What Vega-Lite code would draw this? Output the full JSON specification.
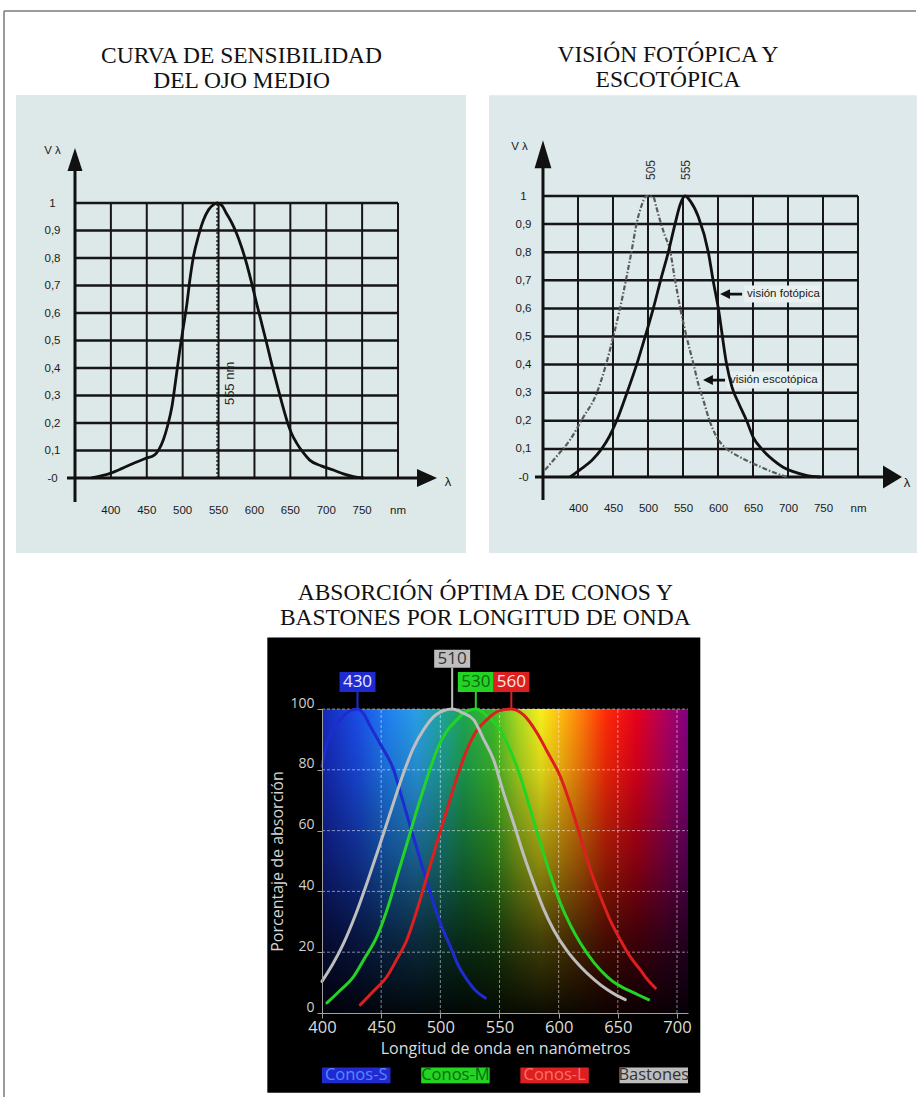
{
"$schema": "https://vega.github.io/schema/vega-lite/v6.json",
"background": "white",
"padding": {"left": 3, "top": 10, "right": 0, "bottom": 0},
"config": {"view": {"stroke": null}},
"datasets": {
"one": [{}],
"vg": [{"nm":400},{"nm":450},{"nm":500},{"nm":550},{"nm":600},{"nm":650},{"nm":700},{"nm":750},{"nm":800}],
"xl": [{"nm":400,"label":"400"},{"nm":450,"label":"450"},{"nm":500,"label":"500"},{"nm":550,"label":"550"},{"nm":600,"label":"600"},{"nm":650,"label":"650"},{"nm":700,"label":"700"},{"nm":750,"label":"750"},{"nm":800,"label":"nm"}],
"hg": [{"v":0.1},{"v":0.2},{"v":0.3},{"v":0.4},{"v":0.5},{"v":0.6},{"v":0.7},{"v":0.8},{"v":0.9},{"v":1}],
"c1": [{"nm":373,"v":0},{"nm":385,"v":0.007},{"nm":399,"v":0.017},{"nm":415,"v":0.034},{"nm":431,"v":0.053},{"nm":447,"v":0.07},{"nm":461,"v":0.084},{"nm":467,"v":0.104},{"nm":473,"v":0.138},{"nm":479,"v":0.19},{"nm":485,"v":0.259},{"nm":490,"v":0.35},{"nm":496,"v":0.465},{"nm":501,"v":0.55},{"nm":506,"v":0.635},{"nm":510,"v":0.72},{"nm":515,"v":0.805},{"nm":522,"v":0.88},{"nm":529,"v":0.938},{"nm":536,"v":0.975},{"nm":543,"v":0.994},{"nm":548,"v":1.0},{"nm":555,"v":0.99},{"nm":561,"v":0.962},{"nm":568,"v":0.93},{"nm":575,"v":0.89},{"nm":582,"v":0.84},{"nm":589,"v":0.78},{"nm":596,"v":0.71},{"nm":603,"v":0.635},{"nm":610,"v":0.563},{"nm":617,"v":0.49},{"nm":624,"v":0.415},{"nm":631,"v":0.344},{"nm":638,"v":0.275},{"nm":645,"v":0.211},{"nm":652,"v":0.16},{"nm":659,"v":0.126},{"nm":668,"v":0.092},{"nm":677,"v":0.065},{"nm":693,"v":0.044},{"nm":710,"v":0.029},{"nm":724,"v":0.015},{"nm":738,"v":0.005},{"nm":752,"v":0}],
"phot": [{"nm":388.6,"v":0},{"nm":405,"v":0.03},{"nm":420,"v":0.06},{"nm":433.8,"v":0.1},{"nm":445,"v":0.145},{"nm":455.2,"v":0.2},{"nm":470,"v":0.3},{"nm":483.8,"v":0.4},{"nm":496,"v":0.5},{"nm":507.6,"v":0.6},{"nm":518,"v":0.7},{"nm":529,"v":0.8},{"nm":538.6,"v":0.9},{"nm":546,"v":0.97},{"nm":553,"v":1.0},{"nm":561,"v":0.98},{"nm":571.9,"v":0.926},{"nm":586.2,"v":0.8},{"nm":593,"v":0.7},{"nm":600.5,"v":0.6},{"nm":612.4,"v":0.4},{"nm":620,"v":0.32},{"nm":630,"v":0.26},{"nm":641,"v":0.2},{"nm":650,"v":0.143},{"nm":662.4,"v":0.1},{"nm":679,"v":0.06},{"nm":693,"v":0.035},{"nm":707.6,"v":0.019},{"nm":726,"v":0.006},{"nm":746,"v":0}],
"scot": [{"nm":352.9,"v":0.025},{"nm":370,"v":0.075},{"nm":388.6,"v":0.132},{"nm":407,"v":0.21},{"nm":426.7,"v":0.298},{"nm":440,"v":0.4},{"nm":450.5,"v":0.5},{"nm":460,"v":0.6},{"nm":469.5,"v":0.713},{"nm":477,"v":0.81},{"nm":483.8,"v":0.903},{"nm":490,"v":0.96},{"nm":498,"v":1.0},{"nm":507.6,"v":0.997},{"nm":512,"v":0.96},{"nm":517,"v":0.915},{"nm":524,"v":0.86},{"nm":531.4,"v":0.808},{"nm":538,"v":0.71},{"nm":545.7,"v":0.606},{"nm":555,"v":0.5},{"nm":564.7,"v":0.405},{"nm":572,"v":0.33},{"nm":579,"v":0.274},{"nm":588,"v":0.2},{"nm":598,"v":0.143},{"nm":610,"v":0.105},{"nm":622,"v":0.084},{"nm":640,"v":0.06},{"nm":660,"v":0.037},{"nm":680,"v":0.016},{"nm":698,"v":0}],
"ann": [{"label":"visión fotópica","nm":603,"v":0.651},{"label":"visión escotópica","nm":578.6,"v":0.345}],
"pk2": [{"peak":505,"label":"505"},{"peak":555,"label":"555"}],
"cones": [
{"series":"Conos-S","nm":400,"v":81.1},{"series":"Conos-S","nm":404.2,"v":88.8},{"series":"Conos-S","nm":409,"v":93.5},{"series":"Conos-S","nm":415.5,"v":96.5},{"series":"Conos-S","nm":422,"v":99},{"series":"Conos-S","nm":430,"v":100},{"series":"Conos-S","nm":435,"v":98.5},{"series":"Conos-S","nm":440.8,"v":94.3},{"series":"Conos-S","nm":450,"v":88},{"series":"Conos-S","nm":460.5,"v":80},{"series":"Conos-S","nm":467,"v":71.5},{"series":"Conos-S","nm":474.6,"v":61.4},{"series":"Conos-S","nm":483,"v":50.5},{"series":"Conos-S","nm":491.5,"v":39.5},{"series":"Conos-S","nm":500,"v":29.5},{"series":"Conos-S","nm":508.4,"v":21.9},{"series":"Conos-S","nm":515,"v":15.8},{"series":"Conos-S","nm":522.5,"v":11},{"series":"Conos-S","nm":530,"v":7.3},{"series":"Conos-S","nm":538,"v":4.9},
{"series":"Conos-M","nm":404.2,"v":3.3},{"series":"Conos-M","nm":415,"v":7.3},{"series":"Conos-M","nm":426.7,"v":12},{"series":"Conos-M","nm":436,"v":18},{"series":"Conos-M","nm":446.5,"v":25.2},{"series":"Conos-M","nm":455,"v":34},{"series":"Conos-M","nm":463.4,"v":44.9},{"series":"Conos-M","nm":472,"v":56},{"series":"Conos-M","nm":480.3,"v":66.9},{"series":"Conos-M","nm":489,"v":77.5},{"series":"Conos-M","nm":497.2,"v":86.6},{"series":"Conos-M","nm":505,"v":92.5},{"series":"Conos-M","nm":514.1,"v":96.5},{"series":"Conos-M","nm":522,"v":99.2},{"series":"Conos-M","nm":530,"v":100},{"series":"Conos-M","nm":540,"v":97.5},{"series":"Conos-M","nm":550.7,"v":93.2},{"series":"Conos-M","nm":559,"v":86.5},{"series":"Conos-M","nm":567.6,"v":77.8},{"series":"Conos-M","nm":576,"v":67},{"series":"Conos-M","nm":584.5,"v":55.9},{"series":"Conos-M","nm":593,"v":45.5},{"series":"Conos-M","nm":601.4,"v":36.2},{"series":"Conos-M","nm":610,"v":28.8},{"series":"Conos-M","nm":618.3,"v":23},{"series":"Conos-M","nm":630,"v":16.5},{"series":"Conos-M","nm":640.9,"v":12},{"series":"Conos-M","nm":649,"v":9.5},{"series":"Conos-M","nm":657.8,"v":7.7},{"series":"Conos-M","nm":667,"v":6},{"series":"Conos-M","nm":676,"v":4.4},
{"series":"Conos-L","nm":432.4,"v":2.7},{"series":"Conos-L","nm":443,"v":7},{"series":"Conos-L","nm":454.9,"v":12},{"series":"Conos-L","nm":463,"v":17.5},{"series":"Conos-L","nm":471.8,"v":24.1},{"series":"Conos-L","nm":480,"v":33.5},{"series":"Conos-L","nm":488.7,"v":44.9},{"series":"Conos-L","nm":497,"v":56},{"series":"Conos-L","nm":505.6,"v":66.9},{"series":"Conos-L","nm":514,"v":77.5},{"series":"Conos-L","nm":522.5,"v":86.6},{"series":"Conos-L","nm":530,"v":92.5},{"series":"Conos-L","nm":539.4,"v":96.5},{"series":"Conos-L","nm":549,"v":99.3},{"series":"Conos-L","nm":560,"v":100},{"series":"Conos-L","nm":571,"v":97.8},{"series":"Conos-L","nm":581.7,"v":92.1},{"series":"Conos-L","nm":591,"v":85.5},{"series":"Conos-L","nm":601.4,"v":77.8},{"series":"Conos-L","nm":610,"v":68.5},{"series":"Conos-L","nm":618.3,"v":58.1},{"series":"Conos-L","nm":626,"v":48},{"series":"Conos-L","nm":635.2,"v":38.4},{"series":"Conos-L","nm":643,"v":31},{"series":"Conos-L","nm":652.1,"v":24.1},{"series":"Conos-L","nm":660,"v":18.8},{"series":"Conos-L","nm":669,"v":14.2},{"series":"Conos-L","nm":675,"v":11},{"series":"Conos-L","nm":681.7,"v":8.2},
{"series":"Bastones","nm":400,"v":10.4},{"series":"Bastones","nm":409,"v":16},{"series":"Bastones","nm":418.3,"v":23},{"series":"Bastones","nm":428,"v":32},{"series":"Bastones","nm":438,"v":42.8},{"series":"Bastones","nm":446,"v":52},{"series":"Bastones","nm":454.9,"v":62.5},{"series":"Bastones","nm":462,"v":71},{"series":"Bastones","nm":469,"v":79},{"series":"Bastones","nm":477,"v":87},{"series":"Bastones","nm":485.9,"v":93.2},{"series":"Bastones","nm":496,"v":98},{"series":"Bastones","nm":510,"v":100},{"series":"Bastones","nm":519,"v":98.7},{"series":"Bastones","nm":528.1,"v":96.5},{"series":"Bastones","nm":536,"v":90.5},{"series":"Bastones","nm":545,"v":83.3},{"series":"Bastones","nm":553,"v":73},{"series":"Bastones","nm":561.9,"v":62.5},{"series":"Bastones","nm":570,"v":52.5},{"series":"Bastones","nm":578.8,"v":42.8},{"series":"Bastones","nm":587,"v":34.5},{"series":"Bastones","nm":595.7,"v":27.4},{"series":"Bastones","nm":607,"v":20.5},{"series":"Bastones","nm":618.3,"v":15.3},{"series":"Bastones","nm":630,"v":11},{"series":"Bastones","nm":640.9,"v":7.7},{"series":"Bastones","nm":649,"v":5.8},{"series":"Bastones","nm":656.3,"v":4.4}
],
"peaks": [{"series":"Conos-S","peak":430},{"series":"Bastones","peak":510},{"series":"Conos-M","peak":530},{"series":"Conos-L","peak":560}],
"vg3": [{"nm":450},{"nm":500},{"nm":550},{"nm":600},{"nm":650},{"nm":700}],
"hg3": [{"v":20},{"v":40},{"v":60},{"v":80},{"v":100}],
"leg": [{"series":"Conos-S"},{"series":"Conos-M"},{"series":"Conos-L"},{"series":"Bastones"}]
},
"columns": 2,
"bounds": "flush",
"spacing": 0,
"concat": [
{"width": 318, "height": 698, "layer": [
 {"data":{"name":"one"},"mark":{"type":"rect","color":"#dde9e9"},"encoding":{
   "x":{"datum":267.8,"type":"quantitative","scale":{"domain":[251.1,694.1],"nice":false,"zero":false},"axis":null},
   "x2":{"datum":894.7},
   "y":{"datum":-0.273,"type":"quantitative","scale":{"domain":[-0.84,1.6982],"nice":false,"zero":false},"axis":{"orient":"left","offset":-71,"values":[0,0.1,0.2,0.3,0.4,0.5,0.6,0.7,0.8,0.9,1],"labelExpr":"datum.value == 0 ? '-0' : (datum.value == 1 ? '1' : replace(format(datum.value, '.1f'), '.', ','))","domain":false,"ticks":false,"tickSize":0,"grid":false,"labelPadding":23,"labelAlign":"center","labelBaseline":"middle","labelFont":"Liberation Sans","labelFontSize":11.5,"labelColor":"#1a1a1a","labelFlush":false,"labelOverlap":false,"labelBound":false,"title":"V λ","titleX":-23,"titleY":139,"titleAlign":"center","titleBaseline":"middle","titleAngle":0,"titleFont":"Liberation Sans","titleFontSize":11.5,"titleFontWeight":"normal","titleColor":"#1a1a1a","zindex":1}},
   "y2":{"datum":1.393}}},
 {"data":{"name":"one"},"mark":{"type":"rule","color":"#7a7a7a","strokeWidth":1.5},"encoding":{"x":{"datum":251.1,"type":"quantitative","scale":{"domain":[251.1,694.1],"nice":false,"zero":false}},"y":{"datum":-0.84,"type":"quantitative","scale":{"domain":[-0.84,1.6982],"nice":false,"zero":false}},"y2":{"datum":1.6982}}},
 {"data":{"name":"one"},"mark":{"type":"rule","color":"#7a7a7a","strokeWidth":1.5},"encoding":{"x":{"datum":251.1,"type":"quantitative","scale":{"domain":[251.1,694.1],"nice":false,"zero":false}},"x2":{"datum":694.1},"y":{"datum":1.6982,"type":"quantitative","scale":{"domain":[-0.84,1.6982],"nice":false,"zero":false}}}},
 {"data":{"name":"one"},"mark":{"type":"text","text":["CURVA DE SENSIBILIDAD","DEL OJO MEDIO"],"font":"Liberation Serif","fontSize":23.5,"lineHeight":25,"align":"center","baseline":"alphabetic","color":"#111111"},"encoding":{"x":{"datum":582,"type":"quantitative","scale":{"domain":[251.1,694.1],"nice":false,"zero":false}},"y":{"datum":1.508,"type":"quantitative","scale":{"domain":[-0.84,1.6982],"nice":false,"zero":false}}}},
 {"data":{"name":"vg"},"mark":{"type":"rule","color":"#161616","strokeWidth":2},"encoding":{"x":{"field":"nm","type":"quantitative","scale":{"domain":[251.1,694.1],"nice":false,"zero":false}},"y":{"datum":0,"type":"quantitative","scale":{"domain":[-0.84,1.6982],"nice":false,"zero":false}},"y2":{"datum":1}}},
 {"data":{"name":"hg"},"mark":{"type":"rule","color":"#161616","strokeWidth":2.5},"encoding":{"y":{"field":"v","type":"quantitative","scale":{"domain":[-0.84,1.6982],"nice":false,"zero":false}},"x":{"datum":350,"type":"quantitative","scale":{"domain":[251.1,694.1],"nice":false,"zero":false}},"x2":{"datum":800}}},
 {"data":{"name":"one"},"mark":{"type":"rule","color":"#111111","strokeWidth":3},"encoding":{"x":{"datum":350,"type":"quantitative","scale":{"domain":[251.1,694.1],"nice":false,"zero":false}},"y":{"datum":-0.087,"type":"quantitative","scale":{"domain":[-0.84,1.6982],"nice":false,"zero":false}},"y2":{"datum":1.16}}},
 {"data":{"name":"one"},"mark":{"type":"rule","color":"#111111","strokeWidth":3},"encoding":{"y":{"datum":0,"type":"quantitative","scale":{"domain":[-0.84,1.6982],"nice":false,"zero":false}},"x":{"datum":338.9,"type":"quantitative","scale":{"domain":[251.1,694.1],"nice":false,"zero":false}},"x2":{"datum":840.4}}},
 {"data":{"name":"one"},"mark":{"type":"point","shape":"M0,-1L0.65,1L-0.65,1Z","size":529,"filled":true,"opacity":1,"color":"#111111","strokeWidth":0},"encoding":{"x":{"datum":350,"type":"quantitative","scale":{"domain":[251.1,694.1],"nice":false,"zero":false}},"y":{"datum":1.158,"type":"quantitative","scale":{"domain":[-0.84,1.6982],"nice":false,"zero":false}}}},
 {"data":{"name":"one"},"mark":{"type":"point","shape":"M1,0L-1,0.9L-1,-0.9Z","size":400,"filled":true,"opacity":1,"color":"#111111","strokeWidth":0},"encoding":{"x":{"datum":840.4,"type":"quantitative","scale":{"domain":[251.1,694.1],"nice":false,"zero":false}},"y":{"datum":0,"type":"quantitative","scale":{"domain":[-0.84,1.6982],"nice":false,"zero":false}}}},
 {"data":{"name":"xl"},"mark":{"type":"text","font":"Liberation Sans","fontSize":11.5,"align":"center","baseline":"middle","color":"#1a1a1a"},"encoding":{"x":{"field":"nm","type":"quantitative","scale":{"domain":[251.1,694.1],"nice":false,"zero":false}},"y":{"datum":-0.12,"type":"quantitative","scale":{"domain":[-0.84,1.6982],"nice":false,"zero":false}},"text":{"field":"label","type":"nominal"}}},
 {"data":{"name":"one"},"mark":{"type":"text","text":"λ","font":"Liberation Sans","fontSize":13,"align":"center","baseline":"middle","color":"#1a1a1a"},"encoding":{"x":{"datum":869.6,"type":"quantitative","scale":{"domain":[251.1,694.1],"nice":false,"zero":false}},"y":{"datum":-0.0145,"type":"quantitative","scale":{"domain":[-0.84,1.6982],"nice":false,"zero":false}}}},
 {"data":{"name":"one"},"mark":{"type":"rule","color":"#222222","strokeWidth":1.5,"strokeDash":[2,2]},"encoding":{"x":{"datum":548,"type":"quantitative","scale":{"domain":[251.1,694.1],"nice":false,"zero":false}},"y":{"datum":0,"type":"quantitative","scale":{"domain":[-0.84,1.6982],"nice":false,"zero":false}},"y2":{"datum":1}}},
 {"data":{"name":"one"},"mark":{"type":"text","text":"555 nm","angle":270,"font":"Liberation Sans","fontSize":13,"align":"center","baseline":"middle","color":"#222222"},"encoding":{"x":{"datum":566,"type":"quantitative","scale":{"domain":[251.1,694.1],"nice":false,"zero":false}},"y":{"datum":0.344,"type":"quantitative","scale":{"domain":[-0.84,1.6982],"nice":false,"zero":false}}}},
 {"data":{"name":"c1"},"mark":{"type":"line","color":"#111111","strokeWidth":2.8,"interpolate":"monotone"},"encoding":{"x":{"field":"nm","type":"quantitative","scale":{"domain":[251.1,694.1],"nice":false,"zero":false}},"y":{"field":"v","type":"quantitative","scale":{"domain":[-0.84,1.6982],"nice":false,"zero":false}}}}
]},
{"width": 595, "height": 698, "layer": [
 {"data":{"name":"one"},"mark":{"type":"rect","color":"#dde9ea"},"encoding":{
   "x":{"datum":272.9,"type":"quantitative","scale":{"domain":[34.3,884.3],"nice":false,"zero":false},"axis":{"orient":"bottom","offset":-232,"values":[400,450,500,550,600,650,700,750,800],"labelExpr":"datum.value == 800 ? 'nm' : datum.label","domain":false,"ticks":false,"tickSize":0,"grid":false,"labelPadding":31,"labelBaseline":"middle","labelAlign":"center","labelFont":"Liberation Sans","labelFontSize":11.5,"labelColor":"#1a1a1a","labelFlush":false,"labelOverlap":false,"labelBound":false,"title":"λ","titleX":584.5,"titleY":5,"titleAlign":"center","titleBaseline":"middle","titleAngle":0,"titleFont":"Liberation Sans","titleFontSize":13,"titleFontWeight":"normal","titleColor":"#1a1a1a","titlePadding":0,"zindex":1}},
   "x2":{"datum":884},
   "y":{"datum":-0.27,"type":"quantitative","scale":{"domain":[-0.8256,1.6584],"nice":false,"zero":false},"axis":{"orient":"left","offset":-221,"values":[0,0.1,0.2,0.3,0.4,0.5,0.6,0.7,0.8,0.9,1],"labelExpr":"datum.value == 0 ? '-0' : (datum.value == 1 ? '1' : replace(format(datum.value, '.1f'), '.', ','))","domain":false,"ticks":false,"tickSize":0,"grid":false,"labelPadding":20,"labelAlign":"center","labelBaseline":"middle","labelFont":"Liberation Sans","labelFontSize":11.5,"labelColor":"#1a1a1a","labelFlush":false,"labelOverlap":false,"labelBound":false,"title":"V λ","titleX":-24,"titleY":135,"titleAlign":"center","titleBaseline":"middle","titleAngle":0,"titleFont":"Liberation Sans","titleFontSize":11.5,"titleFontWeight":"normal","titleColor":"#1a1a1a","zindex":1}},
   "y2":{"datum":1.359}}},
 {"data":{"name":"one"},"mark":{"type":"rule","color":"#7a7a7a","strokeWidth":1.5},"encoding":{"x":{"datum":34.3,"type":"quantitative","scale":{"domain":[34.3,884.3],"nice":false,"zero":false}},"x2":{"datum":882.9},"y":{"datum":1.6584,"type":"quantitative","scale":{"domain":[-0.8256,1.6584],"nice":false,"zero":false}}}},
 {"data":{"name":"one"},"mark":{"type":"text","text":["VISIÓN FOTÓPICA Y","ESCOTÓPICA"],"font":"Liberation Serif","fontSize":23.5,"lineHeight":25,"align":"center","baseline":"alphabetic","color":"#111111"},"encoding":{"x":{"datum":528.6,"type":"quantitative","scale":{"domain":[34.3,884.3],"nice":false,"zero":false}},"y":{"datum":1.4769,"type":"quantitative","scale":{"domain":[-0.8256,1.6584],"nice":false,"zero":false}}}},
 {"data":{"name":"vg"},"mark":{"type":"rule","color":"#161616","strokeWidth":2},"encoding":{"x":{"field":"nm","type":"quantitative","scale":{"domain":[34.3,884.3],"nice":false,"zero":false}},"y":{"datum":0,"type":"quantitative","scale":{"domain":[-0.8256,1.6584],"nice":false,"zero":false}},"y2":{"datum":1}}},
 {"data":{"name":"hg"},"mark":{"type":"rule","color":"#161616","strokeWidth":2.5},"encoding":{"y":{"field":"v","type":"quantitative","scale":{"domain":[-0.8256,1.6584],"nice":false,"zero":false}},"x":{"datum":350,"type":"quantitative","scale":{"domain":[34.3,884.3],"nice":false,"zero":false}},"x2":{"datum":800}}},
 {"data":{"name":"one"},"mark":{"type":"rule","color":"#111111","strokeWidth":3},"encoding":{"x":{"datum":350,"type":"quantitative","scale":{"domain":[34.3,884.3],"nice":false,"zero":false}},"y":{"datum":-0.082,"type":"quantitative","scale":{"domain":[-0.8256,1.6584],"nice":false,"zero":false}},"y2":{"datum":1.149}}},
 {"data":{"name":"one"},"mark":{"type":"rule","color":"#111111","strokeWidth":3},"encoding":{"y":{"datum":0,"type":"quantitative","scale":{"domain":[-0.8256,1.6584],"nice":false,"zero":false}},"x":{"datum":338.6,"type":"quantitative","scale":{"domain":[34.3,884.3],"nice":false,"zero":false}},"x2":{"datum":849.3}}},
 {"data":{"name":"one"},"mark":{"type":"point","shape":"M0,-1L0.6,1L-0.6,1Z","size":784,"filled":true,"opacity":1,"color":"#111111","strokeWidth":0},"encoding":{"x":{"datum":350,"type":"quantitative","scale":{"domain":[34.3,884.3],"nice":false,"zero":false}},"y":{"datum":1.149,"type":"quantitative","scale":{"domain":[-0.8256,1.6584],"nice":false,"zero":false}}}},
 {"data":{"name":"one"},"mark":{"type":"point","shape":"M1,0L-1,1.2L-1,-1.2Z","size":361,"filled":true,"opacity":1,"color":"#111111","strokeWidth":0},"encoding":{"x":{"datum":849.3,"type":"quantitative","scale":{"domain":[34.3,884.3],"nice":false,"zero":false}},"y":{"datum":0,"type":"quantitative","scale":{"domain":[-0.8256,1.6584],"nice":false,"zero":false}}}},
 {"data":{"name":"ann"},"mark":{"type":"point","size":10000,"filled":true,"opacity":1,"strokeWidth":0,"color":"#e8f0f0"},"encoding":{"x":{"field":"nm","type":"quantitative","scale":{"domain":[34.3,884.3],"nice":false,"zero":false}},"y":{"field":"v","type":"quantitative","scale":{"domain":[-0.8256,1.6584],"nice":false,"zero":false}},"shape":{"field":"label","type":"nominal","scale":{"domain":["visión fotópica","visión escotópica"],"range":["M0.48,-0.17H2V0.17H0.48Z","M0.48,-0.17H2.34V0.17H0.48Z"]},"legend":null}}},
 {"data":{"name":"scot"},"mark":{"type":"line","color":"#5a5a5a","strokeWidth":2.2,"strokeDash":[5,2,1.5,2],"interpolate":"monotone"},"encoding":{"x":{"field":"nm","type":"quantitative","scale":{"domain":[34.3,884.3],"nice":false,"zero":false}},"y":{"field":"v","type":"quantitative","scale":{"domain":[-0.8256,1.6584],"nice":false,"zero":false}}}},
 {"data":{"name":"phot"},"mark":{"type":"line","color":"#111111","strokeWidth":2.8,"interpolate":"monotone"},"encoding":{"x":{"field":"nm","type":"quantitative","scale":{"domain":[34.3,884.3],"nice":false,"zero":false}},"y":{"field":"v","type":"quantitative","scale":{"domain":[-0.8256,1.6584],"nice":false,"zero":false}}}},
 {"data":{"name":"pk2"},"mark":{"type":"text","angle":270,"font":"Liberation Sans","fontSize":12,"align":"center","baseline":"middle","color":"#333333"},"encoding":{"x":{"field":"peak","type":"quantitative","scale":{"domain":[34.3,884.3],"nice":false,"zero":false}},"y":{"datum":1.0925,"type":"quantitative","scale":{"domain":[-0.8256,1.6584],"nice":false,"zero":false}},"text":{"field":"label","type":"nominal"}}},
 {"data":{"name":"ann"},"mark":{"type":"point","shape":"M-1,0L-0.1,-0.45L-0.1,-0.13L1,-0.13L1,0.13L-0.1,0.13L-0.1,0.45Z","size":484,"xOffset":11,"filled":true,"opacity":1,"strokeWidth":0,"color":"#111111"},"encoding":{"x":{"field":"nm","type":"quantitative","scale":{"domain":[34.3,884.3],"nice":false,"zero":false}},"y":{"field":"v","type":"quantitative","scale":{"domain":[-0.8256,1.6584],"nice":false,"zero":false}}}},
 {"data":{"name":"ann"},"mark":{"type":"text","dx":27,"align":"left","baseline":"middle","font":"Liberation Sans","fontSize":11.5,"color":"#1a1a1a"},"encoding":{"x":{"field":"nm","type":"quantitative","scale":{"domain":[34.3,884.3],"nice":false,"zero":false}},"y":{"field":"v","type":"quantitative","scale":{"domain":[-0.8256,1.6584],"nice":false,"zero":false}},"text":{"field":"label","type":"nominal"}}}
]},
{"width": 318, "height": 388, "data":{"name":"one"}, "mark":{"type":"rule","color":"#7a7a7a","strokeWidth":1.5}, "encoding":{"x":{"datum":0,"type":"quantitative","scale":{"domain":[0,1],"nice":false,"zero":false},"axis":null},"y":{"datum":0,"type":"quantitative","scale":{"domain":[0,1],"nice":false,"zero":false},"axis":null},"y2":{"datum":1}}},
{"width": 366, "height": 304,
 "resolve": {"scale": {"x": "independent", "fill": "independent"}},
 "layer": [
 {"layer": [
  {"data":{"name":"one"},"mark":{"type":"rect","color":"#000000"},"encoding":{
    "x":{"datum":353.8,"type":"quantitative","scale":{"domain":[400,709.3],"nice":false,"zero":false},"axis":{"values":[400,450,500,550,600,650,700],"title":"Longitud de onda en nanómetros","grid":false,"domainColor":"#a0a0a0","tickColor":"#a0a0a0","tickSize":5,"labelColor":"#dcdcdc","labelFont":"Open Sans","labelFontSize":16.5,"labelPadding":1,"labelFlush":false,"labelOverlap":false,"titleColor":"#dcdcdc","titleFont":"Open Sans","titleFontSize":16,"titleFontWeight":"normal","titlePadding":5,"zindex":1}},
    "x2":{"datum":719.7},
    "y":{"datum":-26.2,"type":"quantitative","scale":{"domain":[0,100],"nice":false,"zero":false},"axis":{"values":[0,20,40,60,80,100],"title":"Porcentaje de absorción","grid":false,"domainColor":"#a0a0a0","tickColor":"#a0a0a0","tickSize":5,"labelColor":"#cfcfcf","labelFont":"Open Sans","labelFontSize":14,"labelPadding":3,"labelOffset":-6,"labelFlush":false,"labelOverlap":false,"titleColor":"#d4d4d4","titleFont":"Open Sans","titleFontSize":16,"titleFontWeight":"normal","titlePadding":4,"zindex":1}},
    "y2":{"datum":123.5}}},
  {"data":{"name":"one"},"mark":{"type":"rect","fill":{"gradient":"linear","x1":0,"y1":0,"x2":1,"y2":0,"stops":[{"offset":0,"color":"#1428b8"},{"offset":0.097,"color":"#1a4ce6"},{"offset":0.178,"color":"#1f7ff0"},{"offset":0.259,"color":"#2a9ee6"},{"offset":0.323,"color":"#1fa3a0"},{"offset":0.388,"color":"#1ea550"},{"offset":0.469,"color":"#3cba2a"},{"offset":0.533,"color":"#a8d820"},{"offset":0.598,"color":"#f8f01a"},{"offset":0.647,"color":"#ffc010"},{"offset":0.711,"color":"#ff7a0a"},{"offset":0.776,"color":"#ff2a08"},{"offset":0.857,"color":"#e8001c"},{"offset":0.938,"color":"#b00060"},{"offset":1,"color":"#800080"}]}},"encoding":{"x":{"datum":400,"type":"quantitative","scale":{"domain":[400,709.3],"nice":false,"zero":false}},"x2":{"datum":709.3},"y":{"datum":0,"type":"quantitative","scale":{"domain":[0,100],"nice":false,"zero":false}},"y2":{"datum":100}}},
  {"data":{"name":"one"},"mark":{"type":"rect","fill":{"gradient":"linear","x1":0,"y1":0,"x2":0,"y2":1,"stops":[{"offset":0,"color":"rgba(0,0,0,0)"},{"offset":0.2,"color":"rgba(0,0,0,0.12)"},{"offset":0.5,"color":"rgba(0,0,0,0.42)"},{"offset":0.75,"color":"rgba(0,0,0,0.72)"},{"offset":1,"color":"rgba(0,0,0,0.95)"}]}},"encoding":{"x":{"datum":400,"type":"quantitative","scale":{"domain":[400,709.3],"nice":false,"zero":false}},"x2":{"datum":709.3},"y":{"datum":0,"type":"quantitative","scale":{"domain":[0,100],"nice":false,"zero":false}},"y2":{"datum":100}}},
  {"data":{"name":"vg3"},"mark":{"type":"rule","color":"#ffffff","opacity":0.5,"strokeWidth":1,"strokeDash":[3,2]},"encoding":{"x":{"field":"nm","type":"quantitative","scale":{"domain":[400,709.3],"nice":false,"zero":false}},"y":{"datum":0,"type":"quantitative","scale":{"domain":[0,100],"nice":false,"zero":false}},"y2":{"datum":100}}},
  {"data":{"name":"hg3"},"mark":{"type":"rule","color":"#ffffff","opacity":0.5,"strokeWidth":1,"strokeDash":[3,2]},"encoding":{"y":{"field":"v","type":"quantitative","scale":{"domain":[0,100],"nice":false,"zero":false}},"x":{"datum":400,"type":"quantitative","scale":{"domain":[400,709.3],"nice":false,"zero":false}},"x2":{"datum":709.3}}},
  {"data":{"name":"cones"},"mark":{"type":"line","strokeWidth":3,"interpolate":"monotone","strokeCap":"round"},"encoding":{
    "x":{"field":"nm","type":"quantitative","scale":{"domain":[400,709.3],"nice":false,"zero":false}},
    "y":{"field":"v","type":"quantitative","scale":{"domain":[0,100],"nice":false,"zero":false}},
    "color":{"field":"series","type":"nominal","scale":{"domain":["Conos-S","Conos-M","Conos-L","Bastones"],"range":["#1f2bd0","#24d424","#dc1f1f","#bebebe"]},"legend":null}}},
  {"data":{"name":"peaks"},"transform":[{"filter":"datum.peak != 510"}],"mark":{"type":"rule","strokeWidth":2},"encoding":{"x":{"field":"peak","type":"quantitative","scale":{"domain":[400,709.3],"nice":false,"zero":false}},"y":{"datum":100,"type":"quantitative","scale":{"domain":[0,100],"nice":false,"zero":false}},"y2":{"datum":105.7},"color":{"field":"series","type":"nominal","scale":{"domain":["Conos-S","Conos-M","Conos-L","Bastones"],"range":["#1f2bd0","#24d424","#dc1f1f","#bebebe"]},"legend":null}}},
  {"data":{"name":"peaks"},"transform":[{"filter":"datum.peak == 510"}],"mark":{"type":"rule","strokeWidth":2},"encoding":{"x":{"field":"peak","type":"quantitative","scale":{"domain":[400,709.3],"nice":false,"zero":false}},"y":{"datum":100,"type":"quantitative","scale":{"domain":[0,100],"nice":false,"zero":false}},"y2":{"datum":113.6},"color":{"field":"series","type":"nominal","scale":{"domain":["Conos-S","Conos-M","Conos-L","Bastones"],"range":["#1f2bd0","#24d424","#dc1f1f","#bebebe"]},"legend":null}}},
  {"data":{"name":"peaks"},"transform":[{"filter":"datum.peak != 510"}],"mark":{"type":"point","shape":"M-1,-0.555H1V0.555H-1Z","size":1296,"filled":true,"opacity":1,"strokeWidth":0},"encoding":{"x":{"field":"peak","type":"quantitative","scale":{"domain":[400,709.3],"nice":false,"zero":false}},"y":{"datum":108.9,"type":"quantitative","scale":{"domain":[0,100],"nice":false,"zero":false}},"color":{"field":"series","type":"nominal","scale":{"domain":["Conos-S","Conos-M","Conos-L","Bastones"],"range":["#1f2bd0","#24d424","#dc1f1f","#bebebe"]},"legend":null}}},
  {"data":{"name":"peaks"},"transform":[{"filter":"datum.peak == 510"}],"mark":{"type":"point","shape":"M-1,-0.5H1V0.5H-1Z","size":1296,"filled":true,"opacity":1,"strokeWidth":0},"encoding":{"x":{"field":"peak","type":"quantitative","scale":{"domain":[400,709.3],"nice":false,"zero":false}},"y":{"datum":116.5,"type":"quantitative","scale":{"domain":[0,100],"nice":false,"zero":false}},"color":{"field":"series","type":"nominal","scale":{"domain":["Conos-S","Conos-M","Conos-L","Bastones"],"range":["#1f2bd0","#24d424","#dc1f1f","#bebebe"]},"legend":null}}},
  {"data":{"name":"peaks"},"transform":[{"filter":"datum.peak != 510"}],"mark":{"type":"text","font":"Open Sans","fontSize":17,"align":"center","baseline":"middle"},"encoding":{"x":{"field":"peak","type":"quantitative","scale":{"domain":[400,709.3],"nice":false,"zero":false}},"y":{"datum":108.9,"type":"quantitative","scale":{"domain":[0,100],"nice":false,"zero":false}},"text":{"field":"peak","type":"quantitative","format":"d"},"fill":{"field":"series","type":"nominal","scale":{"domain":["Conos-S","Conos-M","Conos-L","Bastones"],"range":["#e6ecff","#0b6b0b","#ffe6e6","#333333"]},"legend":null}}},
  {"data":{"name":"peaks"},"transform":[{"filter":"datum.peak == 510"}],"mark":{"type":"text","font":"Open Sans","fontSize":17,"align":"center","baseline":"middle"},"encoding":{"x":{"field":"peak","type":"quantitative","scale":{"domain":[400,709.3],"nice":false,"zero":false}},"y":{"datum":116.5,"type":"quantitative","scale":{"domain":[0,100],"nice":false,"zero":false}},"text":{"field":"peak","type":"quantitative","format":"d"},"fill":{"field":"series","type":"nominal","scale":{"domain":["Conos-S","Conos-M","Conos-L","Bastones"],"range":["#e6ecff","#0b6b0b","#ffe6e6","#333333"]},"legend":null}}},
  {"data":{"name":"one"},"mark":{"type":"text","text":["ABSORCIÓN ÓPTIMA DE CONOS Y","BASTONES POR LONGITUD DE ONDA"],"font":"Liberation Serif","fontSize":23.5,"lineHeight":25,"align":"center","baseline":"alphabetic","color":"#111111"},"encoding":{"x":{"datum":538,"type":"quantitative","scale":{"domain":[400,709.3],"nice":false,"zero":false}},"y":{"datum":135.95,"type":"quantitative","scale":{"domain":[0,100],"nice":false,"zero":false}}}}
 ]},
 {"layer": [
  {"data":{"name":"leg"},"mark":{"type":"bar"},"encoding":{"x":{"field":"series","type":"nominal","scale":{"type":"band","domain":["Conos-S","Conos-M","Conos-L","Bastones"],"paddingInner":0.31,"paddingOuter":0},"axis":null},"y":{"datum":-17.9,"type":"quantitative","scale":{"domain":[0,100],"nice":false,"zero":false}},"y2":{"datum":-23.1},"color":{"field":"series","type":"nominal","scale":{"domain":["Conos-S","Conos-M","Conos-L","Bastones"],"range":["#1f2bd0","#24d424","#dc1f1f","#bebebe"]},"legend":null}}},
  {"data":{"name":"leg"},"mark":{"type":"text","font":"Open Sans","fontSize":16.5,"align":"center","baseline":"middle"},"encoding":{"x":{"field":"series","type":"nominal","scale":{"type":"band","domain":["Conos-S","Conos-M","Conos-L","Bastones"],"paddingInner":0.31,"paddingOuter":0},"axis":null},"y":{"datum":-20.5,"type":"quantitative","scale":{"domain":[0,100],"nice":false,"zero":false}},"text":{"field":"series","type":"nominal"},"fill":{"field":"series","type":"nominal","scale":{"domain":["Conos-S","Conos-M","Conos-L","Bastones"],"range":["#5b86ff","#0b6b0b","#ff6f6f","#333333"]},"legend":null}}}
 ]}
 ]}
]
}
